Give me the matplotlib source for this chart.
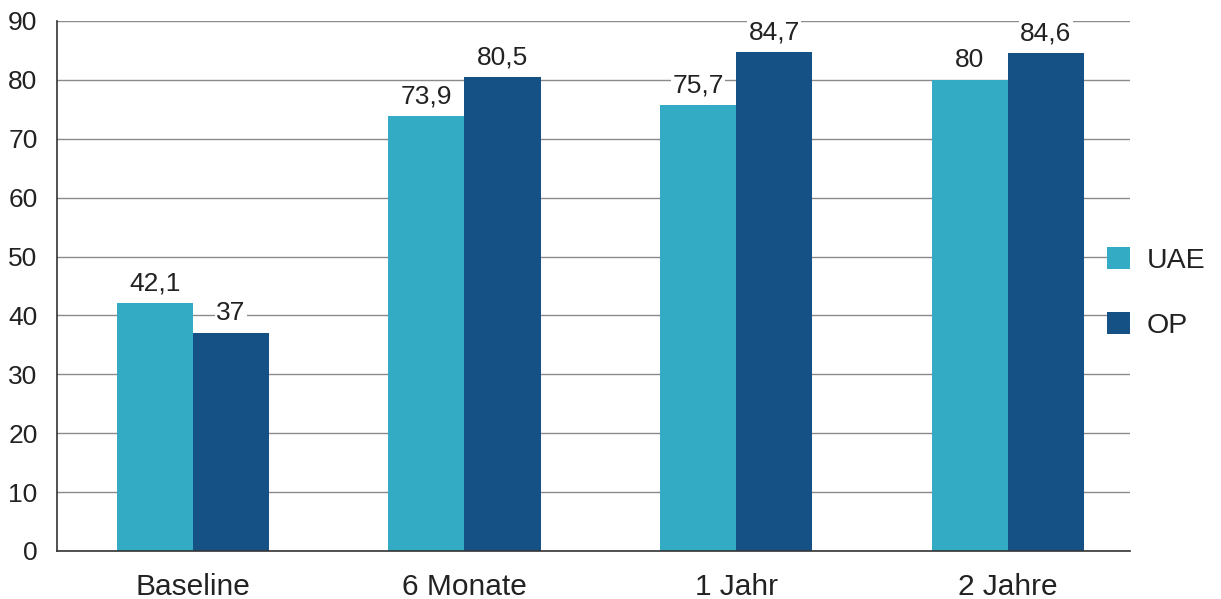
import matplotlib
matplotlib.use("Agg")
import matplotlib.pyplot as plt
import numpy as np

categories = ["Baseline", "6 Monate", "1 Jahr", "2 Jahre"]
series_names = ["UAE", "OP"]
uae = [42.1, 73.9, 75.7, 80]
op = [37, 80.5, 84.7, 84.6]
uae_labels = ["42,1", "73,9", "75,7", "80"]
op_labels = ["37", "80,5", "84,7", "84,6"]
yticks = [0, 10, 20, 30, 40, 50, 60, 70, 80, 90]

plt.rcParams['font.family'] = ['Liberation Sans', 'DejaVu Sans']

fig = plt.figure(figsize=(12.21, 5.99), dpi=100)
ax = fig.add_axes([57/1221, 48/599, (1130-57)/1221, (551-21)/599])

x = np.arange(len(categories))
w = 0.28
c_uae = "#34abc4"
c_op = "#165186"
b1 = ax.bar(x - w/2, uae, w, color=c_uae, label=series_names[0], zorder=2)
b2 = ax.bar(x + w/2, op, w, color=c_op, label=series_names[1], zorder=2)

for bars, labs in ((b1, uae_labels), (b2, op_labels)):
    for r, lab in zip(bars, labs):
        ax.text(r.get_x() + r.get_width()/2, r.get_height() + 1.3, lab,
                ha="center", va="bottom", fontsize=19, color="#222222",
                bbox=dict(facecolor="white", edgecolor="none", pad=1.0), zorder=3)

ax.set_xlim(-0.5, 3.45)
ax.set_ylim(0, 90)
ax.set_yticks(yticks)
ax.set_xticks(x)
ax.set_xticklabels(categories, fontsize=21.5, color="#222222")
ax.tick_params(axis="y", labelsize=19, labelcolor="#222222", length=0, pad=14)
ax.tick_params(axis="x", length=0, pad=16)
ax.grid(axis="y", color="#8a8a8a", linewidth=1.0, zorder=0)
ax.set_axisbelow(True)
for s in ("top", "right"):
    ax.spines[s].set_visible(False)
for s in ("left", "bottom"):
    ax.spines[s].set_color("#333333")
    ax.spines[s].set_linewidth(1.2)

leg = fig.legend(handles=[b1, b2], labels=series_names, loc="center left",
                 bbox_to_anchor=(1098/1221, 306/599), frameon=False, fontsize=20.5,
                 handlelength=0.82, handleheight=0.82, handletextpad=0.6,
                 labelspacing=1.32, borderaxespad=0, borderpad=0.3)
for t in leg.get_texts():
    t.set_color("#222222")

fig.savefig("out.png", dpi=100)
